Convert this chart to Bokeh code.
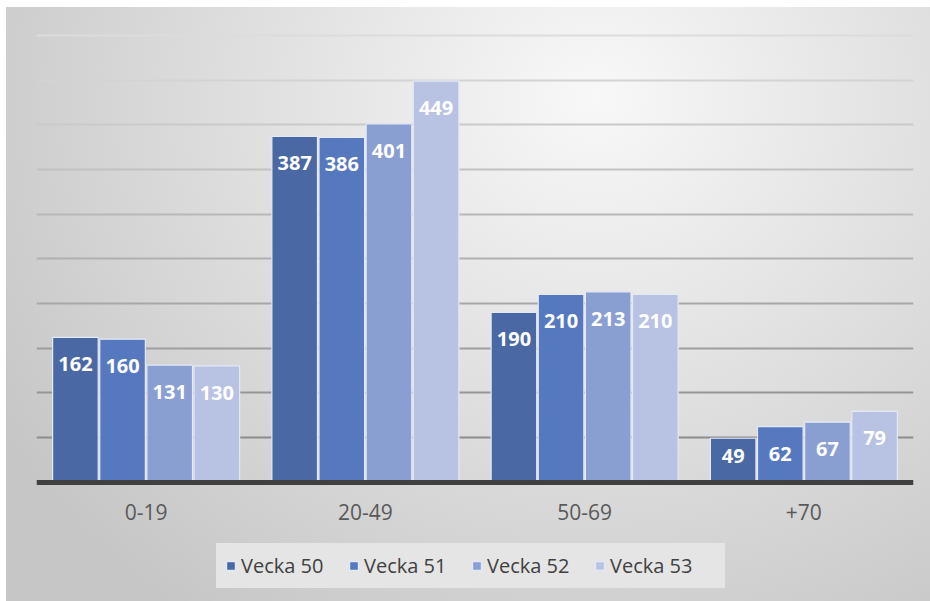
from bokeh.plotting import figure
from bokeh.models import ColumnDataSource, FactorRange, Range1d, Legend, LegendItem
from bokeh.transform import dodge
from bokeh.core.properties import value
from bokeh.embed import file_html
from bokeh.resources import INLINE

# ---- data -------------------------------------------------------------
categories = ["0-19", "20-49", "50-69", "+70"]
series_names = ["Vecka 50", "Vecka 51", "Vecka 52", "Vecka 53"]
vecka50 = [162, 387, 190, 49]
vecka51 = [160, 386, 210, 62]
vecka52 = [131, 401, 213, 67]
vecka53 = [130, 449, 210, 79]
grid_values = [50, 100, 150, 200, 250, 300, 350, 400, 450, 500]

# ---- style ------------------------------------------------------------
bar_colors = ["#4a68a3", "#5578bf", "#899ed1", "#b8c2e3"]
FONT = "Open Sans"
W, H = 930, 601
Y0, Y1 = -133.8, 539.2
ppu = H / (Y1 - Y0)
pitch = 0.215
bar_w = 0.208
LEGEND_BG = "#e6e6e6"

series_values = [vecka50, vecka51, vecka52, vecka53]

data = {"cat": categories}
for k, vals in enumerate(series_values):
    data[f"v{k}"] = vals
    data[f"t{k}"] = [str(v) for v in vals]
    data[f"o{k}"] = [min(27.0, v * ppu - 26.0) for v in vals]
src = ColumnDataSource(data)

p = figure(
    x_range=FactorRange(*categories),
    y_range=Range1d(Y0, Y1),
    width=W, height=H,
    output_backend="svg", toolbar_location=None,
    y_axis_location=None,
    min_border_left=36, min_border_right=17, min_border_top=0, min_border_bottom=0,
    border_fill_color=None, background_fill_color=None, outline_line_color=None,
    styles={
        "background-color": "white",
        "background-image": "radial-gradient(700px 640px at 590px 90px, #f8f8f8 0%, #c6c6c6 100%)",
        "background-position": "6px 7px",
        "background-size": "924px 594px",
        "background-repeat": "no-repeat",
    },
)
p.xgrid.visible = False
p.ygrid.visible = False

# gridlines, darker towards the bottom
n = len(grid_values)
grid_colors = []
for i in range(n):
    t = i / (n - 1)
    c = int(round(0x8c + (0xdc - 0x8c) * t))
    grid_colors.append("#%02x%02x%02x" % (c, c, c))
p.hspan(y=grid_values, line_color=grid_colors, line_width=2)

items = []
for k, name in enumerate(series_names):
    off = (k - 1.5) * pitch
    r = p.vbar(x=dodge("cat", off, range=p.x_range), top=f"v{k}", width=bar_w,
               source=src, fill_color=bar_colors[k], line_color="#e4e9f6", line_width=1.2)
    items.append(LegendItem(label=name, renderers=[r]))
    p.text(x=dodge("cat", off, range=p.x_range), y=f"v{k}", text=f"t{k}", y_offset=f"o{k}",
           source=src, text_align="center", text_baseline="middle", text_color="white",
           text_font=value(FONT), text_font_style="bold", text_font_size="20px")

ax = p.xaxis[0]
ax.fixed_location = 0
ax.axis_line_width = 5
ax.axis_line_color = "#404040"
ax.major_tick_line_color = None
ax.minor_tick_line_color = None
ax.major_label_text_font = FONT
ax.major_label_text_font_size = "21px"
ax.major_label_text_color = "#595959"
ax.major_label_standoff = 16

legend = Legend(items=items, location=(180, 13), orientation="horizontal",
                glyph_width=11, glyph_height=11, label_standoff=5, spacing=1,
                label_width=106, label_height=27,
                padding=8, margin=0, background_fill_color=LEGEND_BG,
                border_line_color=LEGEND_BG, border_line_width=1,
                label_text_font=FONT,
                label_text_font_size="20px", label_text_color="#404040")
p.add_layout(legend)

open("out.html", "w").write(file_html(p, INLINE))
